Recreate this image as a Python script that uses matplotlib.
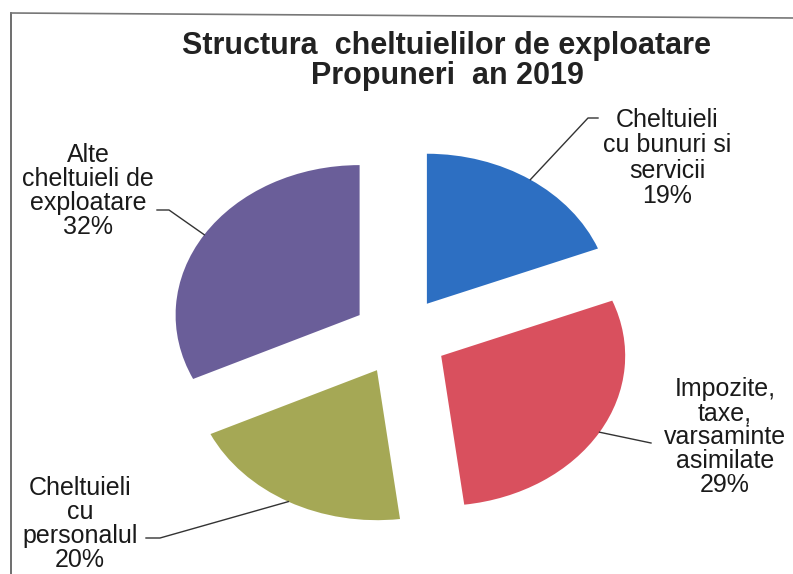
import numpy as np
import matplotlib
matplotlib.use("Agg")
import matplotlib.pyplot as plt
from matplotlib.lines import Line2D

# ---- data ----
categories = ["Cheltuieli\ncu bunuri si\nservicii",
              "Impozite,\ntaxe,\nvarsaminte\nasimilate",
              "Cheltuieli\ncu\npersonalul",
              "Alte\ncheltuieli de\nexploatare"]
shares = [19, 29, 20, 32]
colors = ["#2D6FC2", "#D9505E", "#A5A855", "#6A5E99"]
title_lines = ["Structura  cheltuielilor de exploatare", "Propuneri  an 2019"]

W, H = 793, 574
fig = plt.figure(figsize=(W / 100, H / 100), dpi=100)
fig.patch.set_facecolor("white")

FONT = "Liberation Sans"

# pie axes: centre at pixel (400, 336), rx=184 px, ry=150 px
cx, cy = 400, 336
rx, ry = 184, 150
lim = 1.5
ax = fig.add_axes([(cx - lim * rx) / W, (H - cy - lim * ry) / H,
                   2 * lim * rx / W, 2 * lim * ry / H])
explode = [0.26] * len(shares)
wedges, _ = ax.pie(shares, colors=colors, startangle=90, counterclock=False,
                   explode=explode, radius=1.0,
                   wedgeprops=dict(linewidth=0))
ax.set_aspect("auto")
ax.set_xlim(-lim, lim)
ax.set_ylim(-lim, lim)
ax.axis("off")

# frame border (top and left)
fig.add_artist(Line2D([11 / W, 11 / W], [1 - 13 / H, 0], color="#555555", lw=1.2))
fig.add_artist(Line2D([11 / W, 1], [1 - 13 / H, 1 - 18 / H], color="#777777", lw=1.2))

# title
fig.text(447 / W, 1 - 46 / H, title_lines[0], ha="center", va="center",
         fontsize=22, fontweight="bold", family=FONT, color="#222222")
fig.text(447 / W, 1 - 76 / H, title_lines[1], ha="center", va="center",
         fontsize=22, fontweight="bold", family=FONT, color="#222222")

# labels: (text centre x, centre y of block in pixels), elbow and line-end pixels
label_pos = [(667, 158), (725, 437), (80, 524), (88, 191)]
spacings = [1.08, 1.0, 1.0, 1.0]
elbows = [(588, 118), (651, 443), (160, 538), (169, 210)]
ends = [(598, 118), (651, 443), (146, 538), (157, 210)]

def px_to_fig(p):
    return (p[0] / W, 1 - p[1] / H)

fig.canvas.draw()
to_fig = ax.transData + fig.transFigure.inverted()

for w, cat, share, lp, sp, el, en in zip(wedges, categories, shares, label_pos,
                                         spacings, elbows, ends):
    mid = np.deg2rad((w.theta1 + w.theta2) / 2)
    cxw, cyw = w.center
    arc_pt = to_fig.transform((cxw + np.cos(mid) * w.r, cyw + np.sin(mid) * w.r))
    e = px_to_fig(el)
    n = px_to_fig(en)
    fig.add_artist(Line2D([arc_pt[0], e[0], n[0]], [arc_pt[1], e[1], n[1]],
                          color="#333333", lw=1.0))
    fig.text(lp[0] / W, 1 - lp[1] / H, f"{cat}\n{share}%", ha="center", va="center",
             fontsize=18, family=FONT, color="#1a1a1a", linespacing=sp)

fig.savefig("out.png", dpi=100)
